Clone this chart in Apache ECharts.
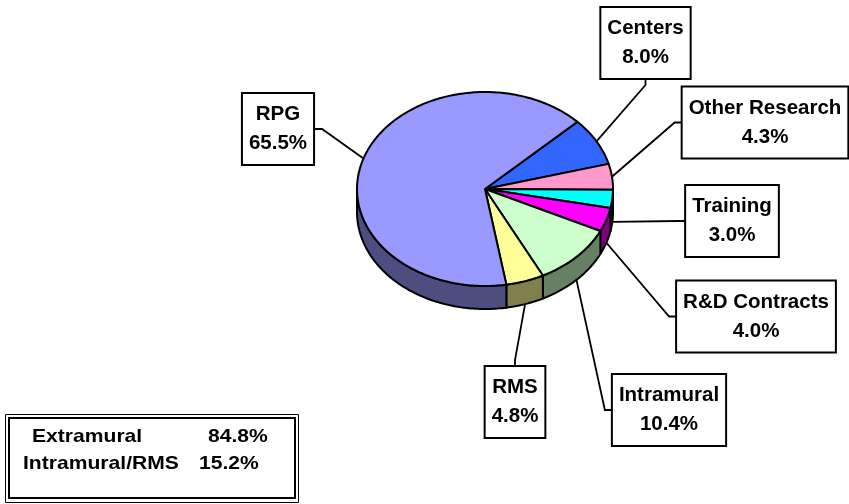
<!DOCTYPE html>
<html>
<head>
<meta charset="utf-8">
<script src="https://cdn.jsdelivr.net/npm/echarts/dist/echarts.min.js"></script>
<style>html,body{margin:0;padding:0;background:#fff}#c{width:849px;height:504px}</style>
</head>
<body>
<div id="c"></div>
<script>
// ---- data ----
const categories = ['Centers', 'Other Research', 'Training', 'R&D Contracts', 'Intramural', 'RMS', 'RPG'];
const values = [8.0, 4.3, 3.0, 4.0, 10.4, 4.8, 65.5];
const extramuralCats = ['Centers', 'Other Research', 'Training', 'R&D Contracts', 'RPG'];
const intramuralCats = ['Intramural', 'RMS'];
const summaryLabels = ['Extramural', 'Intramural/RMS'];

// ---- styles / layout ----
const topColors = ['#3366FF', '#FF99CC', '#00FFFF', '#FF00FF', '#CCFFCC', '#FFFF99', '#9999FF'];
const sideColors = ['#1A3380', '#804D66', '#008080', '#800080', '#668066', '#80804D', '#4D4D80'];
const startAngle = 43.8;           // parametric angle where first slice starts, clockwise
const CX = 485, CY = 189, RX = 128, RY = 97, DEPTH = 23;
const labelCenter = [[645.5, 43], [765, 122.5], [732, 221], [756, 316.5], [669, 410], [515, 402], [278, 129]];
const labelSide = ['bottom', 'left', 'left', 'left', 'left', 'top', 'right'];
const PAD = 6, LINE_H = 29, FONT_SIZE = 20.5;
const FONT_FAMILY = '"Liberation Sans", Arial, sans-serif';

const total = values.reduce((a, b) => a + b, 0);
const starts = [], ends = [];
let acc = startAngle;
values.forEach(v => { starts.push(acc); acc -= v / total * 360; ends.push(acc); });

function pt(t, dy) {
  const r = t * Math.PI / 180;
  return [CX + RX * Math.cos(r), CY - RY * Math.sin(r) + (dy || 0)];
}
function arc(a, b, dy) {
  const pts = [];
  const n = Math.max(2, Math.ceil(Math.abs(a - b)));
  for (let i = 0; i <= n; i++) pts.push(pt(a + (b - a) * i / n, dy));
  return pts;
}
const mctx = document.createElement('canvas').getContext('2d');
function textW(s) { mctx.font = 'bold ' + FONT_SIZE + 'px ' + FONT_FAMILY; return mctx.measureText(s).width; }

function renderItem(params, api) {
  const i = params.dataIndex;
  const v = api.value(0);
  const a1 = starts[i], a2 = ends[i];
  const children = [];
  // front side wall
  for (let k = -2; k <= 1; k++) {
    const lo = -180 + 360 * k, hi = 360 * k;
    const s = Math.max(a2, lo), e = Math.min(a1, hi);
    if (s < e) {
      const pts = arc(e, s, 0).concat(arc(s, e, DEPTH));
      children.push({ type: 'polygon', z2: 1, shape: { points: pts },
        style: { fill: sideColors[i], stroke: '#000', lineWidth: 2, lineJoin: 'round' } });
    }
  }
  // top face
  children.push({ type: 'polygon', z2: 10, shape: { points: [[CX, CY]].concat(arc(a1, a2, 0)) },
    style: { fill: topColors[i], stroke: '#000', lineWidth: 2, lineJoin: 'round' } });
  // label + leader
  const mid = (a1 + a2) / 2;
  const front = Math.sin(mid * Math.PI / 180) < 0;
  const anc = pt(mid, front ? DEPTH : 0);
  const name = categories[i];
  const valTxt = v.toFixed(1) + '%';
  const w = Math.max(textW(name), textW(valTxt)) + 2 * PAD;
  const h = 2 * LINE_H + 2 * PAD;
  const bx = labelCenter[i][0], by = labelCenter[i][1];
  let att, elb;
  switch (labelSide[i]) {
    case 'left': att = [bx - w / 2, by]; elb = [att[0] - 8, by]; break;
    case 'right': att = [bx + w / 2, by]; elb = [att[0] + 9, by]; break;
    case 'top': att = [bx, by - h / 2]; elb = [bx, att[1] - 7]; break;
    default: att = [bx, by + h / 2]; elb = [bx, att[1] + 7];
  }
  children.push({ type: 'polyline', z2: 20, shape: { points: [anc, elb, att] },
    style: { stroke: '#000', lineWidth: 1.8, fill: null } });
  children.push({ type: 'text', z2: 30, x: bx, y: by,
    style: { text: name + '\n' + valTxt, fontSize: FONT_SIZE, fontWeight: 'bold', fontFamily: FONT_FAMILY,
      fill: '#000', align: 'center', verticalAlign: 'middle', lineHeight: LINE_H,
      backgroundColor: '#fff', borderColor: '#000', borderWidth: 2, padding: [PAD, PAD, PAD, PAD] } });
  return { type: 'group', children };
}

function sumOf(list) {
  return list.reduce((s, c) => s + values[categories.indexOf(c)], 0);
}
const summaryValues = [sumOf(extramuralCats), sumOf(intramuralCats)];
const sumFont = { fontSize: 18.5, fontWeight: 'bold', fontFamily: FONT_FAMILY, fill: '#000' };

const chart = echarts.init(document.getElementById('c'), null, { renderer: 'canvas' });
chart.setOption({
  animation: false,
  backgroundColor: '#fff',
  series: [{
    type: 'custom',
    coordinateSystem: 'none',
    renderItem: renderItem,
    data: values.map((v, i) => ({ name: categories[i], value: v }))
  }],
  graphic: [
    { type: 'rect', shape: { x: 5.5, y: 414.5, width: 293, height: 88 }, style: { fill: '#fff', stroke: '#000', lineWidth: 1 } },
    { type: 'rect', shape: { x: 9, y: 418, width: 286, height: 80 }, style: { fill: 'none', stroke: '#000', lineWidth: 2 } },
    { type: 'text', x: 32, y: 437, scaleX: 1.14, style: Object.assign({ text: summaryLabels[0], verticalAlign: 'middle' }, sumFont) },
    { type: 'text', x: 208, y: 437, scaleX: 1.14, style: Object.assign({ text: summaryValues[0].toFixed(1) + '%', verticalAlign: 'middle' }, sumFont) },
    { type: 'text', x: 23, y: 464, scaleX: 1.14, style: Object.assign({ text: summaryLabels[1], verticalAlign: 'middle' }, sumFont) },
    { type: 'text', x: 199, y: 464, scaleX: 1.14, style: Object.assign({ text: summaryValues[1].toFixed(1) + '%', verticalAlign: 'middle' }, sumFont) }
  ]
});
</script>
</body>
</html>
